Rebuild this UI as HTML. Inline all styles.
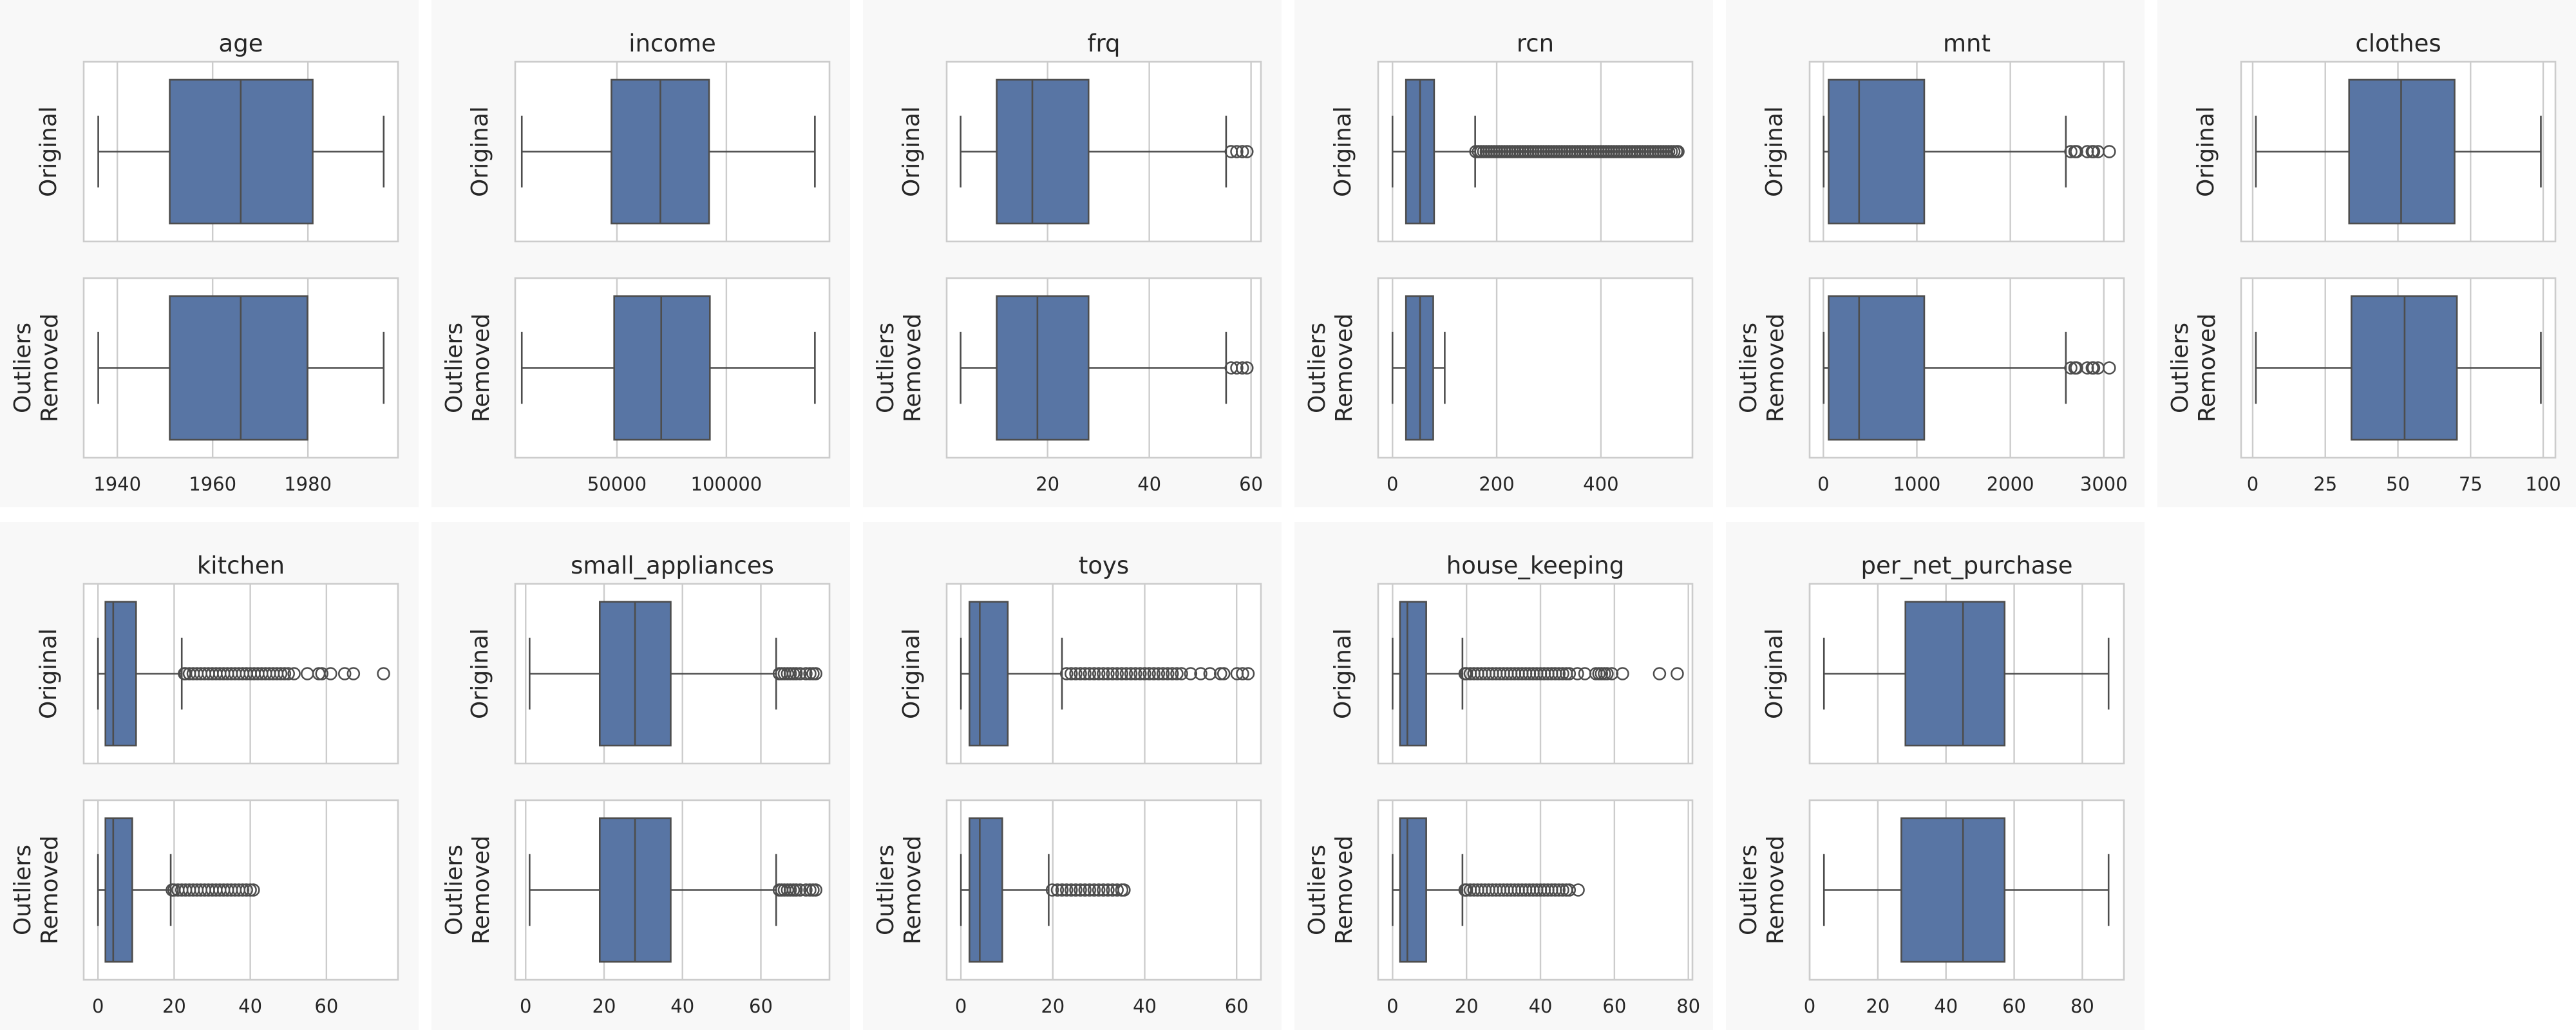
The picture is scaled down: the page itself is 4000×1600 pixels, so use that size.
<!DOCTYPE html>
<html>
<head>
<meta charset="utf-8">
<style>
  html, body { margin: 0; padding: 0; background: #ffffff; }
  svg { display: block; }
  text { font-family: "DejaVu Sans", "Liberation Sans", sans-serif; fill: #262626; }
</style>
</head>
<body>
<svg id="chart" width="4000" height="1600" viewBox="0 0 4000 1600" xmlns="http://www.w3.org/2000/svg"></svg>
<script>
// ---- data ----
const variables = ["age","income","frq","rcn","mnt","clothes","kitchen","small_appliances","toys","house_keeping","per_net_purchase"];
const domainMin = [1932.95, 3518, 0.16, -27.5, -147, -3.98, -3.75, -2.67, -3.1, -3.9, 0.0];
const domainMax = [1998.9, 147110, 61.95, 575.7, 3215, 104.2, 78.8, 77.5, 65.3, 81.1, 92.2];
const tickValues = [
  [1940,1960,1980],[50000,100000],[20,40,60],[0,200,400],[0,1000,2000,3000],[0,25,50,75,100],
  [0,20,40,60],[0,20,40,60],[0,20,40,60],[0,20,40,60,80],[0,20,40,60,80]
];
const tickLabels = [
  ["1940","1960","1980"],["50000","100000"],["20","40","60"],["0","200","400"],["0","1000","2000","3000"],["0","25","50","75","100"],
  ["0","20","40","60"],["0","20","40","60"],["0","20","40","60"],["0","20","40","60","80"],["0","20","40","60","80"]
];
// [whisker-low, Q1, median, Q3, whisker-high]
const statsOriginal = [
  [1936,1951,1965.9,1981,1995.9],
  [6530,47490,69850,92090,140450],
  [2.9,10,17,28.05,55.1],
  [0,25.9,52.9,79.9,158.7],
  [3,56,382,1079,2594],
  [1.1,33.2,51.1,69.5,99.2],
  [0,1.95,4.0,10.0,22.0],
  [1,18.9,27.9,37.0,63.9],
  [0,1.86,4.1,10.2,22.0],
  [0,2,4,9.1,18.9],
  [4.2,28.1,45,57.2,87.7]
];
const statsRemoved = [
  [1936,1951,1965.9,1979.9,1995.9],
  [6530,48740,70230,92470,140450],
  [2.9,10,18,28.05,55.1],
  [0,25.9,52.9,78.2,100.3],
  [3,56,382,1079,2594],
  [1.1,34,52.3,70.3,99.2],
  [0,1.95,4.0,9.0,19.1],
  [1,18.9,27.9,37.0,63.9],
  [0,1.86,4.1,9.0,19.1],
  [0,2,4,9.1,18.9],
  [4.2,26.9,45,57.2,87.7]
];
const outliersOriginal = [
  [],
  [],
  [56.1,57.2,58.3,59.2],
  [160,165,170,175,180,185,190,195,200,205,210,215,220,225,230,235,240,245,250,255,260,265,270,275,280,285,290,295,300,305,310,315,320,325,330,335,340,345,350,355,360,365,370,375,380,385,390,395,400,405,410,415,420,425,430,435,440,445,450,455,460,465,470,475,480,485,490,495,500,505,510,515,520,525,530,535,540,545,548],
  [2647,2691,2709,2824,2876,2891,2938,3059],
  [],
  [22.7,23,24,25,26,27,28,29,30,31,32,33,34,35,36,37,38,39,40,41,42,43,44,45,46,47,48,49,50,51.5,55,58,58.8,61.1,64.8,67.1,75],
  [64.7,65.3,66,66.8,67.5,68.3,69,70,71.5,72.5,73.3,74],
  [23,24,25,26,27,28,29,30,31,32,33,34,35,36,37,38,39,40,41,42,43,44,45,46,47,48,50,52.2,54.2,56.5,57.2,60.1,61.3,62.5],
  [19.6,20,21,22,23,24,25,26,27,28,29,30,31,32,33,34,35,36,37,38,39,40,41,42,43,44,45,46,47,47.8,50,52,55,55.8,56.5,57.3,58,59.3,62.2,72.2,77],
  []
];
const outliersRemoved = [
  [],
  [],
  [56.1,57.2,58.3,59.2],
  [],
  [2647,2691,2709,2824,2876,2891,2938,3059],
  [],
  [19.5,20,21,22,23,24,25,26,27,28,29,30,31,32,33,34,35,36,37,38,39,40,40.8],
  [64.7,65.3,66,66.8,67.5,68.3,69,70,71.5,72.5,73.3,74],
  [19.9,21,22,23,24,25,26,27,28,29,30,31,32,33,34,35,35.5],
  [19.6,20,21,22,23,24,25,26,27,28,29,30,31,32,33,34,35,36,37,38,39,40,41,42,43,44,45,46,47,47.8,50.2],
  []
];

// ---- drawing ----
const NS = "http://www.w3.org/2000/svg";
const svg = document.getElementById("chart");
function mk(tag, attrs, parent) {
  const el = document.createElementNS(NS, tag);
  for (const k in attrs) el.setAttribute(k, attrs[k]);
  (parent || svg).appendChild(el);
  return el;
}
const GRID = "#cccccc", LINE = "#4d4d4d", FILL = "#5875a4", BG = "#f8f8f8";
const PITCH_X = 670, PANEL_W = 650, ROW_Y = [0, 811], ROW_H = [788, 789];
const AX_L = 130, AX_R = 618;
const SUB_TOP = [96, 432], SUB_H = 279;
const LW = 2.6;

variables.forEach((name, i) => {
  const col = i % 6, row = Math.floor(i / 6);
  const px = col * PITCH_X, py = ROW_Y[row];
  const g = mk("g", {});
  
  
  const bg = mk("rect", {x: px, y: py, width: PANEL_W, height: ROW_H[row], fill: BG}, g);
  
  

  const x0 = px + AX_L, x1 = px + AX_R;
  const sx = v => x0 + (v - domainMin[i]) / (domainMax[i] - domainMin[i]) * (x1 - x0);

  const title = mk("text", {x: (x0 + x1) / 2, y: py + 80, "text-anchor": "middle", "font-size": 37}, g);
  title.textContent = name;
  
  

  [0, 1].forEach(s => {
    const top = py + SUB_TOP[s], h = SUB_H, cy = top + h / 2;
    const st = s === 0 ? statsOriginal[i] : statsRemoved[i];
    const outs = s === 0 ? outliersOriginal[i] : outliersRemoved[i];
    const sg = mk("g", {}, g);
    
    
    mk("rect", {x: x0, y: top, width: x1 - x0, height: h, fill: "#ffffff"}, sg);
    tickValues[i].forEach(t => {
      const gl = mk("line", {x1: sx(t), x2: sx(t), y1: top, y2: top + h, stroke: GRID, "stroke-width": 2.4}, sg);
      
      
    });
    const wl = mk("line", {x1: sx(st[0]), x2: sx(st[1]), y1: cy, y2: cy, stroke: LINE, "stroke-width": LW}, sg);
    
    
    const wh = mk("line", {x1: sx(st[3]), x2: sx(st[4]), y1: cy, y2: cy, stroke: LINE, "stroke-width": LW}, sg);
    
    
    const capL = mk("line", {x1: sx(st[0]), x2: sx(st[0]), y1: cy - 0.2 * h, y2: cy + 0.2 * h, stroke: LINE, "stroke-width": LW}, sg);
    
    
    const capH = mk("line", {x1: sx(st[4]), x2: sx(st[4]), y1: cy - 0.2 * h, y2: cy + 0.2 * h, stroke: LINE, "stroke-width": LW}, sg);
    
    
    const box = mk("rect", {x: sx(st[1]), y: cy - 0.4 * h, width: sx(st[3]) - sx(st[1]), height: 0.8 * h, fill: FILL, stroke: LINE, "stroke-width": LW}, sg);
    
    
    const med = mk("line", {x1: sx(st[2]), x2: sx(st[2]), y1: cy - 0.4 * h, y2: cy + 0.4 * h, stroke: LINE, "stroke-width": LW}, sg);
    
    
    outs.forEach(v => {
      const c = mk("circle", {cx: sx(v), cy: cy, r: 9, fill: "none", stroke: LINE, "stroke-width": 2.5}, sg);
      
      
    });
    const fr = mk("rect", {x: x0, y: top, width: x1 - x0, height: h, fill: "none", stroke: GRID, "stroke-width": 2.6}, sg);
    
    

    const lx = px, ly = cy;
    if (s === 0) {
      const t = mk("text", {x: 0, y: 0, "text-anchor": "middle", "font-size": 36, transform: `translate(${lx + 87},${ly}) rotate(-90)`}, g);
      t.textContent = "Original";
      
      
    } else {
      const t1 = mk("text", {x: 0, y: 0, "text-anchor": "middle", "font-size": 36, transform: `translate(${lx + 47},${ly}) rotate(-90)`}, g);
      t1.textContent = "Outliers";
      
      
      const t2 = mk("text", {x: 0, y: 0, "text-anchor": "middle", "font-size": 36, transform: `translate(${lx + 89},${ly}) rotate(-90)`}, g);
      t2.textContent = "Removed";
      
      
    }
  });

  tickValues[i].forEach((t, k) => {
    const tl = mk("text", {x: sx(t), y: py + 762, "text-anchor": "middle", "font-size": 29}, g);
    tl.textContent = tickLabels[i][k];
    
    
  });
});
</script>
</body>
</html>
